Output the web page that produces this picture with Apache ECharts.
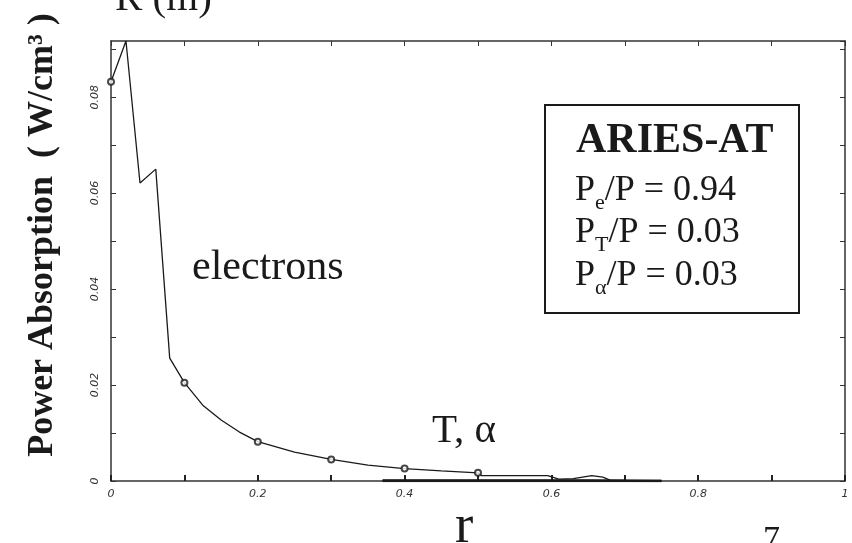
<!DOCTYPE html>
<html>
<head>
<meta charset="utf-8">
<script src="https://cdn.jsdelivr.net/npm/echarts@6/dist/echarts.min.js"></script>
<style>
html,body{margin:0;padding:0;background:#fff;}
#chart{width:852px;height:543px;}
</style>
</head>
<body>
<div id="chart"></div>
<script>
// ---- data ----
const rElectrons = [0, 0.0204, 0.0395, 0.061, 0.080, 0.1, 0.125, 0.15, 0.175, 0.2, 0.25, 0.3, 0.35, 0.4, 0.45, 0.5, 0.505, 0.55, 0.595, 0.61, 0.63, 0.655, 0.67, 0.68, 0.7];
const pElectrons = [0.0832, 0.0917, 0.0621, 0.065, 0.0256, 0.0205, 0.0158, 0.0127, 0.0102, 0.0082, 0.0060, 0.0045, 0.0033, 0.0026, 0.0021, 0.0017, 0.0011, 0.0011, 0.0011, 0.0004, 0.0005, 0.0011, 0.0008, 0.0002, 0.0001];
const rMarkers = [0, 0.1, 0.2, 0.3, 0.4, 0.5];
const pMarkers = [0.0832, 0.0205, 0.0082, 0.0045, 0.0026, 0.0017];
const rTritium = [0.37, 0.45, 0.55, 0.65, 0.75];
const pTritium = [0.0001, 0.0001, 0.0001, 0.0001, 0.0];
const rAlpha = [0.37, 0.45, 0.55, 0.65, 0.75];
const pAlpha = [0.0, 0.0, 0.0, 0.0, 0.0];
const xTickLabels = ['0', '0.2', '0.4', '0.6', '0.8', '1'];
const yTickLabels = ['0', '0.02', '0.04', '0.06', '0.08'];
const boxTitle = 'ARIES-AT';
const ratioLines = [['P', 'e', '/P = 0.94'], ['P', 'T', '/P = 0.03'], ['P', 'α', '/P = 0.03']];

const zip = (a, b) => a.map((v, i) => [v, b[i]]);
const SERIF = '"Liberation Serif", "Times New Roman", serif';
const INK = '#1a1a1a';

const mctx = document.createElement('canvas').getContext('2d');
function tw(s, size, weight) {
  mctx.font = (weight || 'normal') + ' ' + size + 'px ' + SERIF;
  return mctx.measureText(s).width;
}
// text with its baseline at y (middle-aligned with offset)
function txt(x, baseline, s, size, opts) {
  opts = opts || {};
  return {
    type: 'text', x: x, y: baseline - 0.34 * size, silent: true,
    style: {
      text: s, fill: INK, font: (opts.weight || 'normal') + ' ' + size + 'px ' + SERIF,
      align: opts.align || 'left', verticalAlign: 'middle'
    }
  };
}
function subLine(x, baseline, parts, fs, sfs, drop) {
  const els = [];
  els.push(txt(x, baseline, parts[0], fs));
  const w0 = tw(parts[0], fs);
  els.push(txt(x + w0, baseline + drop, parts[1], sfs));
  const w1 = tw(parts[1], sfs);
  els.push(txt(x + w0 + w1, baseline, parts[2], fs));
  return els;
}

const chart = echarts.init(document.getElementById('chart'), null, {renderer: 'canvas'});

const labelStyle = {color: '#333', fontStyle: 'italic', fontSize: 11, fontFamily: '"DejaVu Sans", sans-serif'};
const axisLineStyle = {color: '#333', width: 1.5};

const graphics = [];
// cut-off heading at top
graphics.push(txt(115, 13, 'R (m)', 41));
// y-axis title (rotated)
graphics.push({
  type: 'text', x: 43, y: 235, rotation: Math.PI / 2, silent: true,
  style: {text: 'Power Absorption  ( W/cm³ )', fill: INK, font: 'bold 36px ' + SERIF, align: 'center', verticalAlign: 'middle'}
});
// x-axis name and stray "7"
graphics.push(txt(455, 546, 'r', 55));
graphics.push(txt(763, 552, '7', 34));
// curve annotations
graphics.push(txt(192, 282, 'electrons', 42));
graphics.push(txt(432, 445, 'T, α', 41));
// box
graphics.push({type: 'rect', shape: {x: 545, y: 105, width: 254, height: 208}, style: {fill: '#fff', stroke: INK, lineWidth: 2}, silent: true});
graphics.push(txt(576, 155, boxTitle, 42, {weight: 'bold'}));
const baseLines = [203, 245, 288];
ratioLines.forEach((p, i) => { subLine(575, baseLines[i], p, 36, 22, 8).forEach(e => graphics.push(e)); });

const option = {
  backgroundColor: '#fff',
  animation: false,
  grid: {left: 111, right: 7, top: 41, bottom: 62, containLabel: false},
  xAxis: [{
    type: 'value', min: 0, max: 1, interval: 0.1, position: 'bottom',
    axisLine: {show: true, onZero: false, lineStyle: axisLineStyle},
    axisTick: {show: true, inside: true, length: 6, lineStyle: {color: '#222', width: 2}},
    axisLabel: {show: true, margin: 8, ...labelStyle,
      formatter: v => { const k = Math.round(v * 10); return k % 2 === 0 ? xTickLabels[k / 2] : ''; }},
    splitLine: {show: false}
  }, {
    type: 'value', min: 0, max: 1, interval: 0.1, position: 'top',
    axisLine: {show: true, onZero: false, lineStyle: axisLineStyle},
    axisTick: {show: true, inside: true, length: 5, lineStyle: {color: '#333'}},
    axisLabel: {show: false}, splitLine: {show: false}
  }],
  yAxis: [{
    type: 'value', min: 0, max: 0.0917, interval: 0.01, position: 'left',
    axisLine: {show: true, onZero: false, lineStyle: axisLineStyle},
    axisTick: {show: true, inside: true, length: 5, lineStyle: {color: '#333'}},
    axisLabel: {show: true, rotate: 90, margin: 10, showMaxLabel: false, ...labelStyle,
      formatter: v => { const k = Math.round(v * 100); return k % 2 === 0 ? (yTickLabels[k / 2] || '') : ''; }},
    splitLine: {show: false}
  }, {
    type: 'value', min: 0, max: 0.0917, interval: 0.01, position: 'right',
    axisLine: {show: true, onZero: false, lineStyle: axisLineStyle},
    axisTick: {show: true, inside: true, length: 5, lineStyle: {color: '#333'}},
    axisLabel: {show: false}, splitLine: {show: false}
  }],
  series: [{
    name: 'electrons', type: 'line', data: zip(rElectrons, pElectrons), symbol: 'none',
    lineStyle: {color: INK, width: 1.3}, z: 3
  }, {
    name: 'markers', type: 'scatter', data: zip(rMarkers, pMarkers), symbol: 'emptyCircle', symbolSize: 6,
    itemStyle: {color: INK, borderColor: INK, borderWidth: 1.5}, z: 4
  }, {
    name: 'T', type: 'line', data: zip(rTritium, pTritium), symbol: 'none',
    lineStyle: {color: INK, width: 2.5}, z: 2
  }, {
    name: 'alpha', type: 'line', data: zip(rAlpha, pAlpha), symbol: 'none',
    lineStyle: {color: INK, width: 2.5}, z: 2
  }],
  graphic: {elements: graphics}
};
chart.setOption(option);
</script>
</body>
</html>
